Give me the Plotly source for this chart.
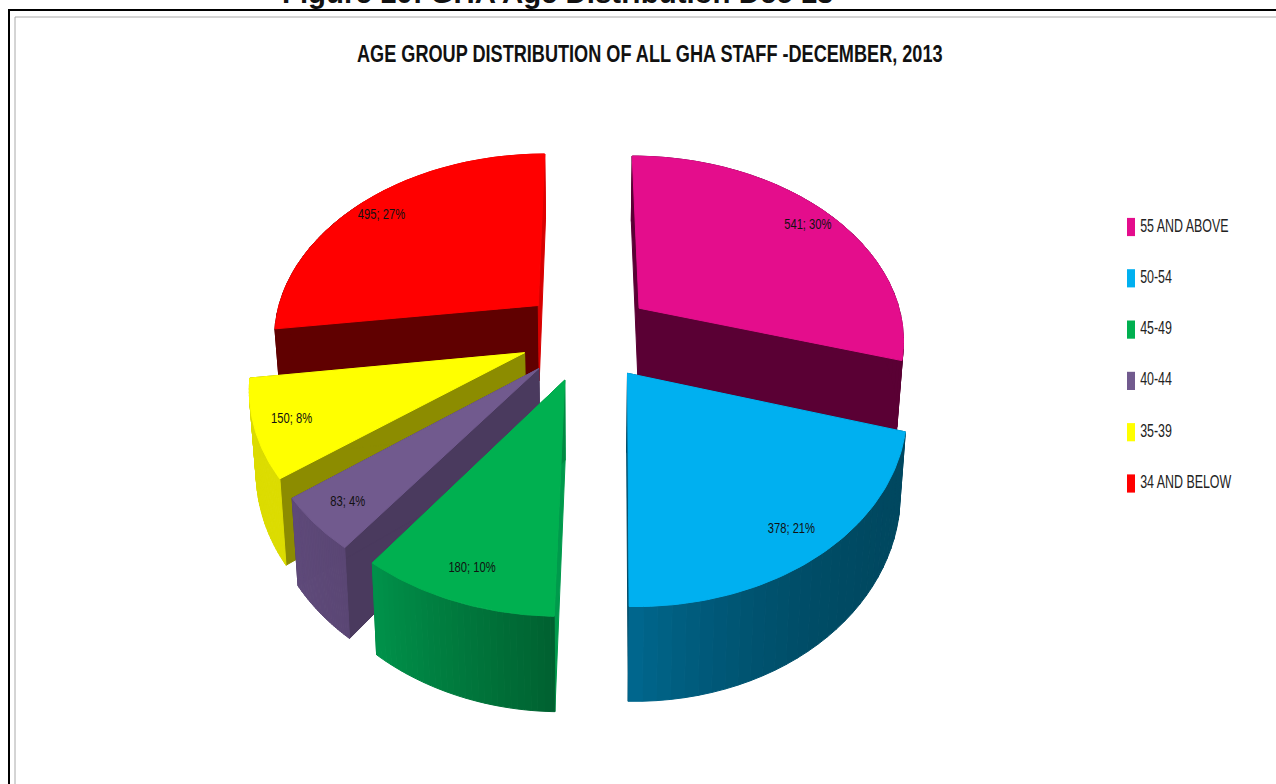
import numpy as np
import plotly.graph_objects as go

categories = ["55 AND ABOVE", "50-54", "45-49", "40-44", "35-39", "34 AND BELOW"]
values = [541, 378, 180, 83, 150, 495]
percents = [30, 21, 10, 4, 8, 27]
top_colors = ["#E40D8C", "#00B0F0", "#00B050", "#715A8E", "#FFFF00", "#FF0000"]
start_wall = ["#5A0034", "#004A66", "#009A4C", "#4A3A5E", "#8C8C00", "#600000"]
end_wall = ["#5A0034", "#004A66", "#008A42", "#4A3A5E", "#8C8C00", "#D80000"]
outer_from = ["#5A0034", "#004860", "#006030", "#5A4674", "#DCDC00", "#600000"]
outer_to = ["#5A0034", "#00688F", "#00924A", "#5F4A7A", "#DCDC00", "#E00000"]
shade_power = [1, 3, 1, 1, 1, 1]
paint_order = [5, 0, 4, 3, 2, 1]

title = "AGE GROUP DISTRIBUTION OF ALL GHA STAFF -DECEMBER, 2013"
caption = "Figure 10: GHA Age Distribution Dec 13"

SANS = "Liberation Sans, Arial, sans-serif"
CX, CY, RX, RY, K, EXPLODE, DEPTH, BOTTOM_SCALE = 587, 335, 266, 183.6, 0.156, 0.25, 77, 0.98
TITLE_SIZE, LABEL_SIZE, LEGEND_SIZE = 24, 14, 18


def project(X, Y, bottom=False):
    f = 1 / (1 + K * Y)
    s = BOTTOM_SCALE if bottom else 1.0
    return CX + RX * X * f * s, CY - RY * Y * f + (DEPTH * f if bottom else 0)


def hex_mix(a, b, t):
    ca = [int(a[i:i + 2], 16) for i in (1, 3, 5)]
    cb = [int(b[i:i + 2], 16) for i in (1, 3, 5)]
    return "rgb(%d,%d,%d)" % tuple(round(p + (q - p) * t) for p, q in zip(ca, cb))


total = sum(values)
edges = np.concatenate([[0], np.cumsum(values)]) / total * 2 * np.pi
fig = go.Figure()


def poly(xs, ys, color):
    fig.add_trace(go.Scatter(x=list(xs), y=list(ys), mode="lines", fill="toself", fillcolor=color,
                             line=dict(color=color, width=1), showlegend=False, hoverinfo="skip"))


label_x, label_y, label_text = [], [], []
for i in paint_order:
    a0, a1 = edges[i], edges[i + 1]
    mid = (a0 + a1) / 2
    ax, ay = EXPLODE * np.sin(mid), EXPLODE * np.cos(mid)
    th = np.linspace(a0, a1, 60)
    wx, wy = ax + np.sin(th), ay + np.cos(th)

    # flat walls along each radial edge
    for ang, col in ((a0, start_wall[i]), (a1, end_wall[i])):
        ex, ey = ax + np.sin(ang), ay + np.cos(ang)
        p1, p2 = project(ax, ay), project(ex, ey)
        p3, p4 = project(ex, ey, True), project(ax, ay, True)
        poly([p1[0], p2[0], p3[0], p4[0], p1[0]], [p1[1], p2[1], p3[1], p4[1], p1[1]], col)

    # curved wall, shaded in strips: dark where it faces the viewer, bright near the back edge
    segs = 30
    idx = np.linspace(0, len(th) - 1, segs + 1).astype(int)
    for s in range(segs):
        a, b = idx[s], idx[s + 1] + 1
        tx, ty = project(wx[a:b], wy[a:b])
        bx, by = project(wx[a:b], wy[a:b], True)
        t = (s + 0.5) / segs
        if i == 5:
            t = 0.0 if t < 0.5 else 1.0
        poly(np.r_[tx, bx[::-1], tx[0]], np.r_[ty, by[::-1], ty[0]],
             hex_mix(outer_from[i], outer_to[i], t ** shade_power[i]))

    # top face
    tx, ty = project(wx, wy)
    ap = project(ax, ay)
    poly(np.r_[ap[0], tx, ap[0]], np.r_[ap[1], ty, ap[1]], top_colors[i])

    lx, ly = project(ax + 0.85 * np.sin(mid), ay + 0.85 * np.cos(mid))
    label_x.append(CX + (lx - CX) * (1.02 + 0.03 * max(0, np.cos(mid))))
    label_y.append(ly + 6 * max(0, -np.cos(mid)))
    label_text.append(f"{values[i]}; {percents[i]}%")

fig.add_trace(go.Scatter(x=label_x, y=label_y, text=label_text, mode="text", showlegend=False, hoverinfo="skip",
                         textposition="middle center", textfont=dict(family=SANS, size=LABEL_SIZE, color="#111111")))

# legend column
for j, name in enumerate(categories):
    fig.add_trace(go.Scatter(x=[1131], y=[227 + j * 51.3], mode="markers+text", name=name, text=[name],
                             textposition="middle right", showlegend=False, hoverinfo="skip",
                             marker=dict(symbol="line-ns", size=13, color=top_colors[j],
                                         line=dict(width=8, color=top_colors[j])),
                             textfont=dict(family=SANS, size=LEGEND_SIZE, color="#222222"), cliponaxis=False))

fig.update_layout(
    width=1276, height=784, margin=dict(l=0, r=0, t=0, b=0), paper_bgcolor="white", plot_bgcolor="white",
    xaxis=dict(range=[0, 1276], visible=False, fixedrange=True),
    yaxis=dict(range=[784, 0], visible=False, fixedrange=True),
    annotations=[
        dict(text=f"<b>{title}</b>", x=649.5, y=53, xref="x", yref="y", showarrow=False,
             font=dict(family=SANS, size=TITLE_SIZE, color="#111111")),
        dict(text=f"<b>{caption}</b>", x=557.5, y=11, xref="x", yref="y", yanchor="bottom", showarrow=False,
             font=dict(family=SANS, size=29.4, color="#111111")),
    ],
    shapes=[
        dict(type="line", x0=8, x1=1276, y0=10, y1=10, xref="x", yref="y", line=dict(color="black", width=2), layer="above"),
        dict(type="line", x0=9, x1=9, y0=10, y1=784, xref="x", yref="y", line=dict(color="black", width=2), layer="above"),
        dict(type="line", x0=15, x1=1276, y0=17, y1=17, xref="x", yref="y", line=dict(color="#AAAAAA", width=1), layer="above"),
        dict(type="line", x0=15, x1=15, y0=17, y1=784, xref="x", yref="y", line=dict(color="#AAAAAA", width=1), layer="above"),
    ],
)

# The reference uses a narrow face that is not installed, so text is condensed horizontally.
condense_js = """
document.body.style.margin='0';document.body.style.overflow='hidden';
var factors={%d:0.755,%d:0.8,%d:0.69};
document.querySelectorAll('svg text').forEach(function(t){
  var f=factors[Math.round(parseFloat(t.style.fontSize))];
  if(f){t.setAttribute('textLength',t.getComputedTextLength()*f);t.setAttribute('lengthAdjust','spacingAndGlyphs');}
});
""" % (TITLE_SIZE, LABEL_SIZE, LEGEND_SIZE)

fig.write_html("out.html", config=dict(displayModeBar=False), post_script=condense_js)
